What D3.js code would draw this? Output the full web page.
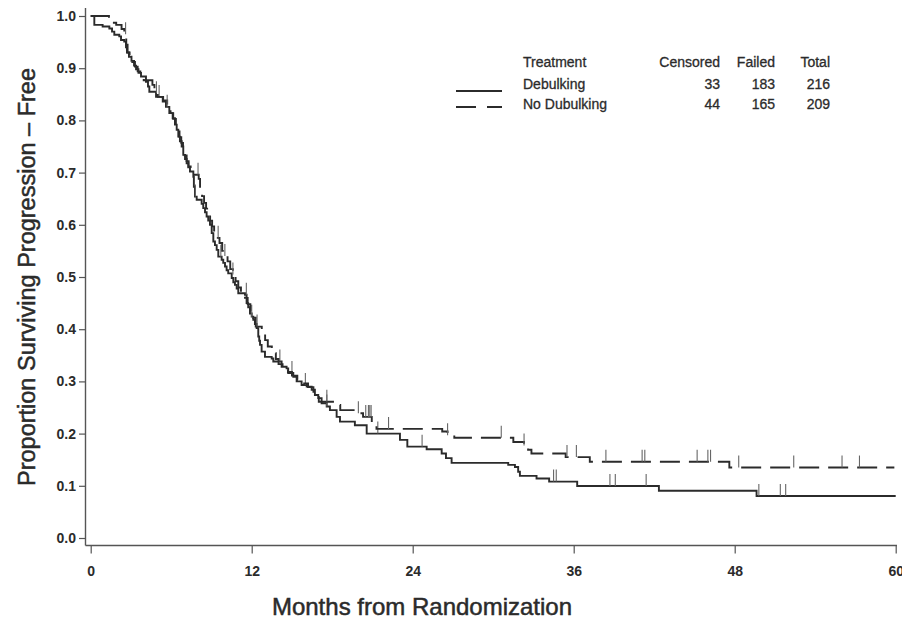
<!DOCTYPE html>
<html>
<head>
<meta charset="utf-8">
<script src="https://cdn.jsdelivr.net/npm/d3@7"></script>
<style>
  html, body { margin: 0; padding: 0; background: #fff; }
  svg { display: block; font-family: "Liberation Sans", Arial, sans-serif; }
</style>
</head>
<body>
<svg id="chart" width="902" height="622"></svg>
<script>
// Kaplan-Meier steps: [months, proportion progression-free] after each drop
const debulkingSteps = [
  [0, 1.0], [0.27, 0.983], [0.89, 0.980], [1.39, 0.976], [1.59, 0.970], [1.76, 0.964],
  [2.13, 0.961], [2.26, 0.954], [2.50, 0.951], [2.63, 0.940], [2.70, 0.930], [2.85, 0.922],
  [3.04, 0.914], [3.23, 0.905], [3.38, 0.898], [3.56, 0.891], [3.75, 0.884], [4.12, 0.874],
  [4.27, 0.865], [4.37, 0.855], [4.87, 0.845], [5.37, 0.836], [5.61, 0.826], [5.86, 0.814],
  [6.11, 0.804], [6.28, 0.792], [6.41, 0.782], [6.53, 0.769], [6.65, 0.760], [6.78, 0.750],
  [6.90, 0.734], [7.03, 0.726], [7.15, 0.718], [7.27, 0.710], [7.40, 0.702], [7.65, 0.692],
  [7.69, 0.673], [7.77, 0.654], [7.90, 0.648], [8.27, 0.640], [8.39, 0.632], [8.52, 0.624],
  [8.64, 0.616], [8.76, 0.608], [8.89, 0.600], [9.02, 0.584], [9.14, 0.568], [9.26, 0.561],
  [9.39, 0.552], [9.51, 0.539], [9.76, 0.533], [9.88, 0.527], [10.01, 0.520], [10.13, 0.513],
  [10.25, 0.507], [10.51, 0.498], [10.63, 0.490], [10.75, 0.485], [10.88, 0.478], [11.00, 0.469],
  [11.50, 0.466], [11.62, 0.450], [11.74, 0.442], [11.87, 0.430], [12.00, 0.424], [12.12, 0.418],
  [12.24, 0.410], [12.37, 0.402], [12.49, 0.386], [12.56, 0.378], [12.62, 0.370], [12.74, 0.357],
  [12.99, 0.347], [13.49, 0.344], [13.61, 0.338], [14.23, 0.328], [14.60, 0.325], [14.72, 0.316],
  [15.10, 0.309], [15.35, 0.300], [15.72, 0.293], [16.10, 0.290], [16.47, 0.284], [16.71, 0.274],
  [16.96, 0.268], [17.21, 0.258], [17.59, 0.252], [17.83, 0.245], [18.33, 0.232], [18.58, 0.223],
  [19.69, 0.216], [20.57, 0.200], [23.05, 0.188], [23.60, 0.175], [25.04, 0.170], [26.16, 0.162],
  [26.48, 0.153], [26.90, 0.144], [31.12, 0.140], [31.62, 0.136], [31.86, 0.127], [31.99, 0.119],
  [33.23, 0.114], [34.17, 0.108], [36.26, 0.0996], [42.35, 0.0906], [49.63, 0.0805]
];
const debulkingCensored = [5.1, 7.8, 9.7, 11.6, 12.0, 14.1, 15.0, 16.0, 17.6, 21.4, 24.7,
  34.5, 34.7, 38.7, 39.1, 41.4, 49.8, 51.4, 51.8];
const debulkingEnd = 60;

const noDebulkingSteps = [
  [0, 1.0], [1.36, 0.987], [1.90, 0.983], [2.30, 0.975], [2.50, 0.965], [2.65, 0.945],
  [2.75, 0.930], [2.90, 0.921], [3.10, 0.912], [3.30, 0.903], [3.50, 0.894], [3.70, 0.886],
  [3.95, 0.877], [4.60, 0.868], [4.75, 0.852], [5.00, 0.845], [5.40, 0.838], [5.70, 0.826],
  [5.95, 0.814], [6.15, 0.803], [6.35, 0.790], [6.50, 0.779], [6.62, 0.768], [6.75, 0.757],
  [6.88, 0.745], [7.00, 0.733], [7.15, 0.722], [7.30, 0.712], [7.45, 0.702], [7.60, 0.696],
  [8.05, 0.688], [8.15, 0.668], [8.30, 0.655], [8.45, 0.642], [8.60, 0.631], [8.75, 0.620],
  [8.90, 0.608], [9.05, 0.597], [9.20, 0.585], [9.35, 0.575], [9.60, 0.565], [9.80, 0.550],
  [9.95, 0.540], [10.20, 0.530], [10.40, 0.515], [10.60, 0.505], [10.80, 0.492], [11.00, 0.480],
  [11.20, 0.470], [11.50, 0.460], [11.70, 0.448], [11.90, 0.435], [12.10, 0.422], [12.30, 0.405],
  [12.75, 0.390], [13.00, 0.379], [13.20, 0.367], [13.50, 0.354], [13.80, 0.343], [14.00, 0.333],
  [14.30, 0.326], [14.70, 0.318], [15.00, 0.311], [15.40, 0.303], [15.80, 0.296], [16.20, 0.289],
  [16.60, 0.280], [16.90, 0.270], [17.00, 0.261], [18.20, 0.255], [18.60, 0.245], [19.85, 0.239],
  [20.30, 0.232], [20.95, 0.222], [21.30, 0.209], [26.20, 0.204], [26.60, 0.197], [27.10, 0.192],
  [31.50, 0.184], [32.30, 0.177], [32.60, 0.169], [32.85, 0.162], [35.40, 0.155], [37.20, 0.146],
  [47.60, 0.135]
];
const noDebulkingCensored = [2.6, 4.9, 5.7, 8.0, 9.5, 10.0, 10.6, 12.4, 17.6, 19.95, 20.5, 20.7,
  20.8, 20.9, 22.2, 26.6, 30.6, 32.3, 35.5, 36.2, 38.4, 41.1, 41.3, 45.2, 46.0, 46.2, 48.3,
  52.4, 56.0, 57.3];
const noDebulkingEnd = 59.9;

// legend table
const legendGroups = ["Debulking", "No Dubulking"];
const legendCensored = [33, 44];
const legendFailed = [183, 165];
const legendTotal = [216, 209];

const xMajorTicks = [0, 12, 24, 36, 48, 60];
const yMajorTicks = [0, 0.1, 0.2, 0.3, 0.4, 0.5, 0.6, 0.7, 0.8, 0.9, 1.0];

const svg = d3.select("#chart");
const ink = "#2b2b2b";

const x = d3.scaleLinear().domain([0, 60]).range([90.7, 895.7]);
const y = d3.scaleLinear().domain([0, 1]).range([538, 16]);

const axisLeftX = 85.5, axisBottomY = 545.5;

// axis lines (offset from the data origin)
svg.append("line")
  .attr("x1", axisLeftX).attr("x2", axisLeftX)
  .attr("y1", 8).attr("y2", axisBottomY)
  .attr("stroke", "#555").attr("stroke-width", 1.4);
svg.append("line")
  .attr("x1", axisLeftX).attr("x2", 897)
  .attr("y1", axisBottomY).attr("y2", axisBottomY)
  .attr("stroke", "#555").attr("stroke-width", 1.4);

// x ticks: minor every 2 months, major every 12
const gx = svg.append("g").attr("transform", `translate(0,${axisBottomY})`);
gx.call(d3.axisBottom(x).tickValues(d3.range(0, 61, 2)).tickSize(4).tickFormat(""));
gx.call(d3.axisBottom(x).tickValues(xMajorTicks).tickSize(8).tickPadding(13)
  .tickFormat(d3.format("d")));
gx.selectAll(".domain").remove();
gx.selectAll("line").attr("stroke", "#555").attr("stroke-width", 1.2);
gx.selectAll("text")
  .attr("font-family", "Liberation Sans, Arial, sans-serif")
  .attr("font-size", 14).attr("font-weight", "bold").attr("fill", ink);

// y ticks: minor every 0.02, major every 0.1
const gy = svg.append("g").attr("transform", `translate(${axisLeftX},0)`);
gy.call(d3.axisLeft(y).tickValues(d3.range(0, 51, 2).map(d => d / 100)).tickSize(3.5).tickFormat(""));
gy.call(d3.axisLeft(y).tickValues(yMajorTicks).tickSize(6.5).tickPadding(3)
  .tickFormat(d3.format(".1f")));
gy.selectAll(".domain").remove();
gy.selectAll("line").attr("stroke", "#555").attr("stroke-width", 1.2);
gy.selectAll("text")
  .attr("font-family", "Liberation Sans, Arial, sans-serif")
  .attr("font-size", 14).attr("font-weight", "bold").attr("fill", ink);

// axis titles
svg.append("text")
  .attr("x", 422).attr("y", 615)
  .attr("text-anchor", "middle")
  .attr("font-size", 24).attr("fill", ink)
  .attr("stroke", ink).attr("stroke-width", 0.5)
  .text("Months from Randomization");
svg.append("text")
  .attr("transform", "translate(35,277) rotate(-90)")
  .attr("text-anchor", "middle")
  .attr("font-size", 23.5).attr("fill", ink)
  .attr("stroke", ink).attr("stroke-width", 0.5)
  .text("Proportion Surviving Progression – Free");

// survival curves
const stepLine = d3.line()
  .x(d => x(d[0]))
  .y(d => y(d[1]))
  .curve(d3.curveStepAfter);

const survivalAt = (steps, t) => {
  let s = steps[0][1];
  for (const [ti, si] of steps) { if (ti <= t) s = si; else break; }
  return s;
};

const groups = [
  { steps: debulkingSteps, censored: debulkingCensored, end: debulkingEnd, dash: null },
  { steps: noDebulkingSteps, censored: noDebulkingCensored, end: noDebulkingEnd, dash: "20,9" }
];

groups.forEach(g => {
  const pts = g.steps.concat([[g.end, g.steps[g.steps.length - 1][1]]]);
  svg.append("path")
    .datum(pts)
    .attr("d", stepLine)
    .attr("fill", "none")
    .attr("stroke", ink)
    .attr("stroke-width", 1.9)
    .attr("stroke-dasharray", g.dash);

  svg.append("g").selectAll("line")
    .data(g.censored)
    .join("line")
    .attr("x1", d => x(d)).attr("x2", d => x(d))
    .attr("y1", d => y(survivalAt(g.steps, d)))
    .attr("y2", d => y(survivalAt(g.steps, d)) - 12)
    .attr("stroke", "#666")
    .attr("stroke-width", 1.1);
});

// legend table
const legend = svg.append("g").attr("font-size", 14).attr("fill", ink)
  .attr("stroke", ink).attr("stroke-width", 0.3);
const colCensored = 720, colFailed = 775, colTotal = 830, colName = 523;
const rowY = [89, 109];
const sampleY = [91, 107];

legend.append("text").attr("x", colName).attr("y", 67).text("Treatment");
legend.append("text").attr("x", colCensored).attr("y", 67).attr("text-anchor", "end").text("Censored");
legend.append("text").attr("x", colFailed).attr("y", 67).attr("text-anchor", "end").text("Failed");
legend.append("text").attr("x", colTotal).attr("y", 67).attr("text-anchor", "end").text("Total");

legendGroups.forEach((name, i) => {
  legend.append("line")
    .attr("x1", 456).attr("x2", 502)
    .attr("y1", sampleY[i]).attr("y2", sampleY[i])
    .attr("stroke", ink).attr("stroke-width", 1.9)
    .attr("stroke-dasharray", groups[i].dash ? "20,11" : null);
  legend.append("text").attr("x", colName).attr("y", rowY[i]).text(name);
  legend.append("text").attr("x", colCensored).attr("y", rowY[i]).attr("text-anchor", "end").text(legendCensored[i]);
  legend.append("text").attr("x", colFailed).attr("y", rowY[i]).attr("text-anchor", "end").text(legendFailed[i]);
  legend.append("text").attr("x", colTotal).attr("y", rowY[i]).attr("text-anchor", "end").text(legendTotal[i]);
});
</script>
</body>
</html>
